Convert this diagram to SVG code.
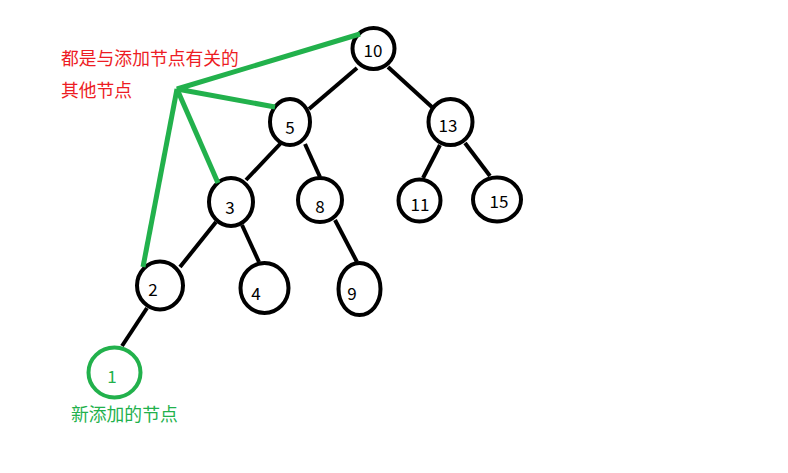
<svg xmlns="http://www.w3.org/2000/svg" width="788" height="473" viewBox="0 0 788 473">
<style>
.n{fill:#fff;stroke:#000;stroke-width:4}
.g{fill:#fff;stroke:#22b14c;stroke-width:4}
.t{font-family:"Noto Sans CJK SC","Noto Sans",sans-serif;font-size:17px;fill:#000;text-anchor:middle;dominant-baseline:central}
.e{stroke:#000;stroke-width:4;stroke-linecap:butt}
.ge{stroke:#22b14c;stroke-width:5;stroke-linecap:butt;fill:none}
.lab{font-family:"Noto Sans CJK SC",sans-serif;font-size:17.8px}
</style>
<rect width="788" height="473" fill="#fff"/>
<g id="connectors">
<line class="e" x1="357" y1="68" x2="309" y2="109"/>
<line class="e" x1="388" y1="67" x2="433" y2="108"/>
<line class="e" x1="281" y1="143" x2="246" y2="180"/>
<line class="e" x1="305" y1="144" x2="320" y2="177"/>
<line class="e" x1="440" y1="145" x2="423" y2="178"/>
<line class="e" x1="465" y1="143" x2="490" y2="176"/>
<line class="e" x1="216" y1="222" x2="180" y2="267"/>
<line class="e" x1="242" y1="225" x2="259" y2="262"/>
<line class="e" x1="335" y1="220" x2="357" y2="262"/>
<line class="e" x1="147" y1="308" x2="122" y2="346"/>
</g>
<g id="node10"><ellipse class="n" cx="373.5" cy="48.5" rx="21" ry="20.5"/><text class="t" x="373" y="49">10</text></g>
<g id="node5"><ellipse class="n" cx="290" cy="122" rx="20" ry="23"/><text class="t" x="290" y="126">5</text></g>
<g id="node13"><ellipse class="n" cx="450.5" cy="122" rx="22" ry="23"/><text class="t" x="448" y="124">13</text></g>
<g id="node3"><ellipse class="n" cx="231" cy="202" rx="22" ry="24"/><text class="t" x="230" y="206">3</text></g>
<g id="node8"><ellipse class="n" cx="320" cy="200" rx="22" ry="22"/><text class="t" x="320" y="205">8</text></g>
<g id="node11"><ellipse class="n" cx="419.5" cy="200.5" rx="21" ry="21"/><text class="t" x="420" y="203">11</text></g>
<g id="node15"><ellipse class="n" cx="497" cy="199.5" rx="24" ry="22"/><text class="t" x="499" y="200">15</text></g>
<g id="node2"><ellipse class="n" cx="160" cy="285.5" rx="23" ry="24"/><text class="t" x="153" y="288">2</text></g>
<g id="node4"><ellipse class="n" cx="264.5" cy="288" rx="24" ry="25"/><text class="t" x="256" y="292">4</text></g>
<g id="node9"><ellipse class="n" cx="359.5" cy="289" rx="21" ry="26"/><text class="t" x="352" y="292">9</text></g>
<g id="node1"><ellipse class="g" cx="114.5" cy="372.5" rx="26" ry="25"/><text class="t" x="112" y="375" style="fill:#22b14c">1</text></g>
<g id="highlight">
<polyline class="ge" points="360,34 177,89 275,107"/>
<line class="ge" x1="177" y1="89" x2="218" y2="183"/>
<line class="ge" x1="177" y1="89" x2="143" y2="267"/>
</g>
<g id="labels">
<text class="lab" x="61" y="65" fill="#ed1c24">都是与添加节点有关的</text>
<text class="lab" x="61" y="97" fill="#ed1c24">其他节点</text>
<text class="lab" x="71" y="421" fill="#22b14c">新添加的节点</text>
</g>
</svg>
